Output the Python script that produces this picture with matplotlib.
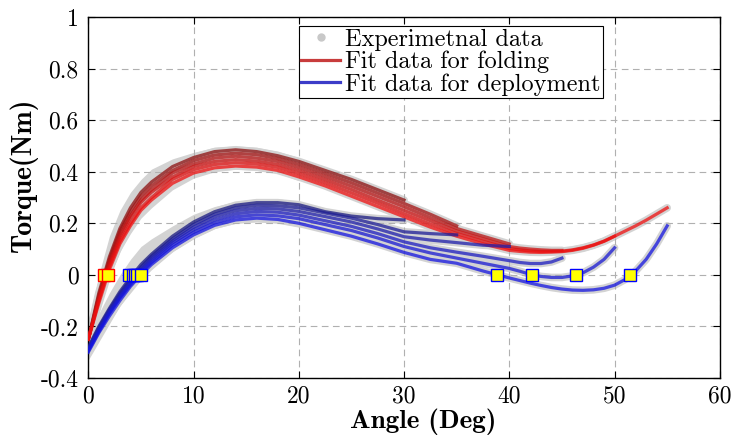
import numpy as np
import matplotlib
matplotlib.use("Agg")
import matplotlib.pyplot as plt
from matplotlib.lines import Line2D

plt.rcParams['font.family'] = 'cmr10'
plt.rcParams['axes.unicode_minus'] = False
plt.rcParams['mathtext.fontset'] = 'cm'

# angle knots (deg) shared by all curves, each curve stops at its max angle
angle = [0, 1, 2, 3, 4, 5, 6, 8, 10, 12, 14, 16, 18, 20, 22.5, 25, 27.5,
         30, 32.5, 35, 37.5, 40, 41, 42, 43, 44, 45, 46, 47, 48, 49, 50,
         51, 52, 53, 54, 55]

# fit curves for folding (Nm)
fold_30 = [-0.25, -0.07, 0.07, 0.18, 0.26, 0.32, 0.36, 0.42, 0.455, 0.478, 0.485,
           0.478, 0.462, 0.44, 0.405, 0.37, 0.33, 0.29]
fold_35 = [-0.25, -0.08, 0.06, 0.17, 0.245, 0.305, 0.345, 0.405, 0.443, 0.465, 0.472,
           0.466, 0.451, 0.428, 0.393, 0.357, 0.317, 0.277, 0.235, 0.19]
fold_40 = [-0.25, -0.085, 0.05, 0.155, 0.23, 0.29, 0.33, 0.395, 0.43, 0.453, 0.46,
           0.453, 0.44, 0.416, 0.381, 0.344, 0.304, 0.264, 0.222, 0.18, 0.15, 0.12]
fold_45 = [-0.25, -0.095, 0.04, 0.145, 0.22, 0.28, 0.32, 0.38, 0.42, 0.44, 0.447,
           0.441, 0.428, 0.404, 0.369, 0.331, 0.29, 0.25, 0.21, 0.17, 0.14, 0.11,
           0.104, 0.1, 0.097, 0.095, 0.095]
fold_50 = [-0.25, -0.1, 0.03, 0.13, 0.2, 0.26, 0.3, 0.37, 0.408, 0.428, 0.435,
           0.43, 0.417, 0.392, 0.357, 0.318, 0.278, 0.237, 0.197, 0.16, 0.13, 0.102,
           0.097, 0.093, 0.091, 0.091, 0.092, 0.097, 0.105, 0.116, 0.131, 0.15]
fold_55 = [-0.25, -0.11, 0.02, 0.12, 0.19, 0.25, 0.29, 0.355, 0.395, 0.415, 0.422,
           0.418, 0.405, 0.38, 0.345, 0.305, 0.265, 0.225, 0.185, 0.15, 0.12, 0.095,
           0.091, 0.088, 0.087, 0.088, 0.09, 0.095, 0.103, 0.115, 0.13, 0.15,
           0.17, 0.19, 0.212, 0.236, 0.26]

# fit curves for deployment (Nm)
dep_30 = [-0.28, -0.2, -0.13, -0.065, -0.01, 0.04, 0.08, 0.15, 0.205, 0.245, 0.27,
          0.28, 0.28, 0.272, 0.245, 0.228, 0.218, 0.213]
dep_35 = [-0.285, -0.205, -0.135, -0.072, -0.018, 0.03, 0.072, 0.14, 0.195, 0.235, 0.26,
          0.27, 0.268, 0.26, 0.24, 0.22, 0.195, 0.167, 0.16, 0.155]
dep_40 = [-0.29, -0.21, -0.14, -0.08, -0.025, 0.022, 0.064, 0.132, 0.185, 0.225, 0.249,
          0.258, 0.256, 0.246, 0.226, 0.205, 0.178, 0.148, 0.135, 0.125, 0.115, 0.11]
dep_45 = [-0.29, -0.215, -0.145, -0.085, -0.03, 0.015, 0.056, 0.124, 0.175, 0.213, 0.237,
          0.246, 0.243, 0.232, 0.21, 0.188, 0.16, 0.128, 0.105, 0.088, 0.072, 0.055,
          0.048, 0.044, 0.044, 0.05, 0.065]
dep_50 = [-0.295, -0.22, -0.15, -0.09, -0.038, 0.008, 0.048, 0.115, 0.165, 0.202, 0.225,
          0.233, 0.229, 0.218, 0.195, 0.172, 0.143, 0.11, 0.085, 0.065, 0.045, 0.025,
          0.014, 0.002, -0.006, -0.01, -0.01, -0.004, 0.008, 0.03, 0.06, 0.105]
dep_55 = [-0.3, -0.225, -0.16, -0.1, -0.045, 0.0, 0.04, 0.105, 0.155, 0.192, 0.213,
          0.22, 0.215, 0.2, 0.175, 0.15, 0.12, 0.087, 0.06, 0.045, 0.015, -0.012,
          -0.022, -0.032, -0.041, -0.049, -0.055, -0.059, -0.06, -0.058, -0.052, -0.04,
          -0.018, 0.015, 0.06, 0.12, 0.19]

# spread of the measured points on the rising part (first 14 knots)
exp_fold_hi = [-0.2, 0.0, 0.15, 0.25, 0.32, 0.37, 0.41, 0.45, 0.475, 0.495, 0.5, 0.495, 0.48, 0.455]
exp_fold_lo = [-0.3, -0.14, -0.01, 0.09, 0.16, 0.22, 0.26, 0.33, 0.375, 0.4, 0.41, 0.405, 0.395, 0.365]
exp_dep_hi = [-0.25, -0.15, -0.07, 0.0, 0.06, 0.11, 0.14, 0.19, 0.235, 0.265, 0.285, 0.295, 0.295, 0.285]
exp_dep_lo = [-0.33, -0.26, -0.19, -0.12, -0.07, -0.02, 0.02, 0.09, 0.14, 0.18, 0.2, 0.205, 0.2, 0.185]

# zero crossings
zero_fold = [1.5, 1.85]
zero_dep = [3.9, 4.2, 4.4, 4.6, 5.0, 38.8, 42.2, 46.3, 51.5]

fold = [fold_30, fold_35, fold_40, fold_45, fold_50, fold_55]
dep = [dep_30, dep_35, dep_40, dep_45, dep_50, dep_55]
red_cols = ['#8c1010', '#a31212', '#b81414', '#cc1212', '#de1010', '#ee1010']
blue_cols = ['#1a1a80', '#1c1c96', '#1e1eaa', '#1c1cc0', '#1818d2', '#1414e0']

fig, ax = plt.subplots(figsize=(7.36, 4.36), dpi=100)
fig.subplots_adjust(left=0.12, right=0.978, top=0.961, bottom=0.133)

grey = '#d3d3d3'
ax.fill_between(angle[:14], exp_fold_lo, exp_fold_hi, color=grey, lw=0, zorder=1)
ax.fill_between(angle[:14], exp_dep_lo, exp_dep_hi, color=grey, lw=0, zorder=1)
for y in fold + dep:
    ax.plot(angle[:len(y)], y, color=grey, lw=5.5, solid_capstyle='round', zorder=1)

for y, c in zip(fold, red_cols):
    ax.plot(angle[:len(y)], y, color=c, lw=2.3, alpha=0.75, zorder=3)
for y, c in zip(dep, blue_cols):
    ax.plot(angle[:len(y)], y, color=c, lw=2.3, alpha=0.75, zorder=3)

ax.plot(zero_fold, np.zeros(len(zero_fold)), 's', ms=8, mfc='yellow', mec='red',
        mew=1, zorder=4)
ax.plot(zero_dep, np.zeros(len(zero_dep)), 's', ms=8, mfc='yellow', mec='blue',
        mew=1, zorder=4)

ax.set_xlim(0, 60)
ax.set_ylim(-0.4, 1)
ax.set_xticks(np.arange(0, 61, 10))
ax.set_yticks(np.arange(-0.4, 1.01, 0.2))
ax.set_yticklabels(['-0.4', '-0.2', '0', '0.2', '0.4', '0.6', '0.8', '1'])
ax.tick_params(direction='in', top=True, right=True, length=5, labelsize=17, pad=7)
ax.tick_params(axis='x', pad=5)
ax.grid(True, ls=(0, (6, 4)), color='#b0b0b0', lw=0.8)
for s in ax.spines.values():
    s.set_linewidth(1.0)

ax.set_xlabel('Angle (Deg)', fontsize=19.5, family='cmb10')
ax.set_ylabel('Torque(Nm)', fontsize=20, family='cmb10')
ax.xaxis.set_label_coords(0.53, -0.085)
ax.yaxis.set_label_coords(-0.08, 0.56)

handles = [Line2D([], [], ls='none', marker='o', ms=5, color='#c8c8c8'),
           Line2D([], [], color='#c83c3c', lw=2.3),
           Line2D([], [], color='#3c3cc8', lw=2.3)]
labels = ['Experimetnal data', 'Fit data for folding', 'Fit data for deployment']
leg = ax.legend(handles, labels, loc='upper center', bbox_to_anchor=(0.574, 0.975),
                fontsize=17.5, frameon=True, fancybox=False, edgecolor='black',
                framealpha=1, handlelength=1.6, handletextpad=0.2, labelspacing=0.0,
                borderpad=0.1, borderaxespad=0)
leg.get_frame().set_linewidth(0.8)

fig.savefig('out.png', dpi=100)
